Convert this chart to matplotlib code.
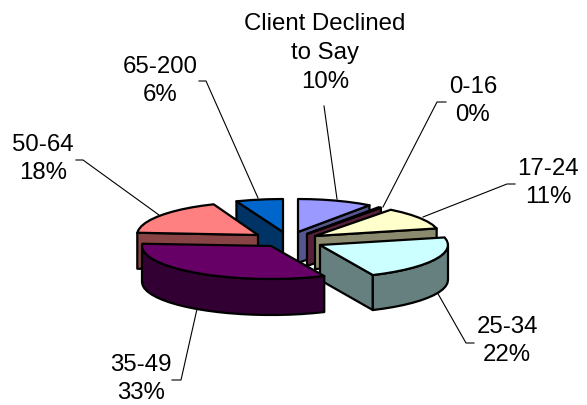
import numpy as np
import matplotlib
matplotlib.use('Agg')
import matplotlib.pyplot as plt
from matplotlib.patches import Polygon

plt.rcParams['font.family'] = ['Liberation Sans', 'DejaVu Sans']

categories = ['Client Declined\nto Say', '0-16', '17-24', '25-34', '35-49', '50-64', '65-200']
percent = [10, 0, 11, 22, 33, 18, 6]
# the 0% slice is still drawn as a sliver in the original
drawn = [10, 0.4, 11, 22, 33, 18, 6]

top_colors = ['#9999FF', '#993366', '#FFFFCC', '#CCFFFF', '#660066', '#FF8080', '#0066CC']
side_colors = ['#55558F', '#562039', '#8A8A6E', '#668080', '#330033', '#884444', '#003366']

# layout of the exploded slices, in pixels
apex_x = [298, 307, 315, 320, 271, 258, 283]
apex_y = [233, 235, 237, 246, 247, 236, 233]
radius_x = [122, 122, 125, 128, 129, 121, 127]
radius_y = 33
depth = [31, 32, 33, 35, 36, 36, 34]
draw_order = [6, 5, 0, 1, 2, 3, 4]

label_x = [325, 473, 548, 507, 141, 43, 160]
label_y = [53, 101, 183, 341, 379, 159, 81]
leaders = [
    [(324, 107), (337, 200)],
    [(446, 103), (437, 103), (383, 208)],
    [(515, 185), (507, 185), (423, 218)],
    [(474, 344), (466, 344), (437, 293)],
    [(172, 381), (181, 381), (197, 310)],
    [(76, 161), (83, 161), (159, 216)],
    [(199, 82), (206, 82), (258, 199)],
]

fig = plt.figure(figsize=(5.87, 4.06), dpi=100)
ax = fig.add_axes([0, 0, 1, 1])
ax.set_xlim(0, 587)
ax.set_ylim(406, 0)
ax.axis('off')

ends = np.cumsum(drawn) / np.sum(drawn) * 360
starts = np.concatenate(([0], ends[:-1]))


def rim_point(i, deg):
    t = np.radians(deg)
    return apex_x[i] + radius_x[i] * np.sin(t), apex_y[i] - radius_y * np.cos(t)


def face(points, color, zorder):
    ax.add_patch(Polygon(points, closed=True, facecolor=color, edgecolor='black',
                         linewidth=1.6, joinstyle='round', zorder=zorder))


for z, i in enumerate(draw_order):
    base = z * 10 + 2
    a = (apex_x[i], apex_y[i])
    d = depth[i]
    low = (a[0], a[1] + d)

    # flat cut faces, only the ones turned towards the viewer
    if np.sin(np.radians(starts[i])) < -1e-6:
        p = rim_point(i, starts[i])
        face([a, p, (p[0], p[1] + d), low], side_colors[i], base)
    if np.sin(np.radians(ends[i])) > 1e-6:
        p = rim_point(i, ends[i])
        face([a, p, (p[0], p[1] + d), low], side_colors[i], base)

    # outer wall, front half of the ellipse
    lo = max(starts[i], 90)
    hi = min(ends[i], 270)
    if hi > lo:
        degs = np.linspace(lo, hi, max(int((hi - lo) / 5), 2))
        upper = [rim_point(i, v) for v in degs]
        lower = [(x, y + d) for x, y in upper]
        face(upper + lower[::-1], side_colors[i], base + 1)

    # top face
    degs = np.linspace(starts[i], ends[i], max(int((ends[i] - starts[i]) / 5), 2))
    face([a] + [rim_point(i, v) for v in degs], top_colors[i], base + 2)

for i, line in enumerate(leaders):
    xs, ys = zip(*line)
    ax.plot(xs, ys, color='black', linewidth=0.8, zorder=1)
    ax.text(label_x[i], label_y[i], f'{categories[i]}\n{percent[i]}%', ha='center', va='center',
            fontsize=17.3, color='black', linespacing=1.39, zorder=200)

fig.savefig('out.png', dpi=100, facecolor='white')
